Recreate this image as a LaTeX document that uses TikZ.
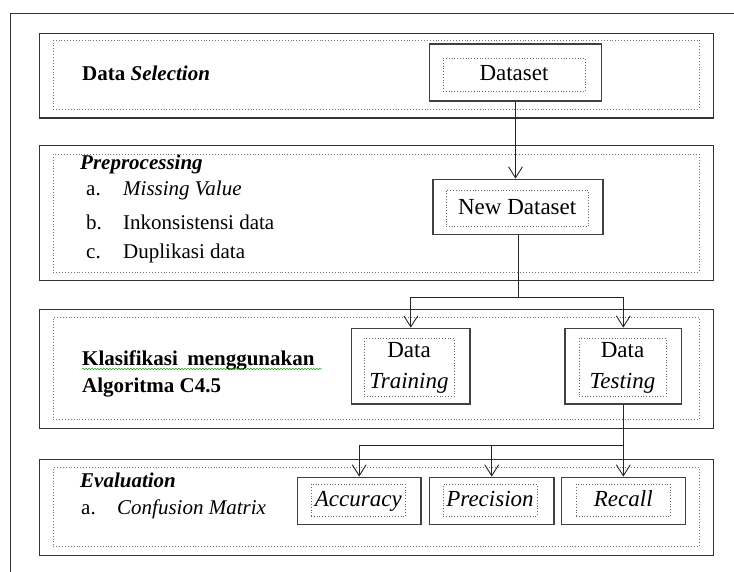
\documentclass[tikz,border=0pt]{standalone}
\usepackage{fontspec}
\setmainfont{Liberation Serif}
\usetikzlibrary{arrows.meta,decorations.pathmorphing}
\begin{document}
\begin{tikzpicture}[x=1pt,y=-1pt,
  secbox/.style={draw=black!80,line width=1.1pt,minimum width=674pt,inner sep=0pt},
  secdot/.style={draw=black!55,dotted,line width=0.9pt,minimum width=645.7pt,inner sep=0pt},
  itembox/.style={draw=black!75,line width=1.4pt,inner sep=0pt},
  innerdot/.style={draw=black!60,dotted,line width=0.8pt,inner sep=0pt,font=\fontsize{23}{31}\selectfont,align=center},
  oneline/.style={text height=16pt,text depth=4pt},
  conn/.style={draw=black!85,line width=0.9pt},
  arr/.style={conn,-{Straight Barb[length=11pt,width=14pt,line width=0.9pt]}},
  lbl/.style={anchor=base west,inner sep=0pt,font=\fontsize{21}{25}\selectfont}
]
\useasboundingbox (0,0) rectangle (734,572);
% outer page frame
\draw[black!80,line width=1pt] (734,14) -- (10,14) -- (10,572);

% section frames
\node[secbox,minimum height=84.7pt] (s1) at (376.3,75.7) {};
\node[secdot,minimum height=69pt] (s1d) at (376.2,74.5) {};
\node[secbox,minimum height=135.2pt] (s2) at (376.3,213.1) {};
\node[secdot,minimum height=118pt] (s2d) at (376.2,213) {};
\node[secbox,minimum height=118.8pt] (s3) at (376.3,368.9) {};
\node[secdot,minimum height=102.2pt] (s3d) at (376.2,368.4) {};
\node[secbox,minimum height=96.4pt] (s4) at (376.3,507.5) {};
\node[secdot,minimum height=79pt] (s4d) at (376.2,507.2) {};

% section labels
\node[lbl] (t1) at (82,81) {\textbf{Data \textit{Selection}}};
\node[lbl] (t2) at (80,170) {\textbf{\textit{Preprocessing}}};
\node[lbl] (t2a) at (86,196) {a.};
\node[lbl] (t2at) at (123,196) {\textit{Missing Value}};
\node[lbl] (t2b) at (86,230) {b.};
\node[lbl] (t2bt) at (123,230) {Inkonsistensi data};
\node[lbl] (t2c) at (86,259) {c.};
\node[lbl] (t2ct) at (123,259) {Duplikasi data};
\node[lbl] (t3) at (82,365) {\textbf{Klasifikasi\hspace{0.45em}menggunakan}};
\node[lbl] (t3b) at (82,392) {\textbf{Algoritma C4.5}};
\draw[green!60!black,line width=0.5pt,decorate,decoration={snake,amplitude=0.6pt,segment length=3pt}] (82,369) -- (322,369);
\node[lbl] (t4) at (80,487) {\textbf{\textit{Evaluation}}};
\node[lbl] (t4a) at (81,514) {a.};
\node[lbl] (t4at) at (117,514) {\textit{Confusion Matrix}};

% process boxes
\node[itembox,minimum width=172.4pt,minimum height=57pt] (ds) at (515.5,72.5) {};
\node[innerdot,oneline,minimum width=142pt,minimum height=33.4pt] (dsi) at (514,75) {Dataset};
\node[itembox,minimum width=170pt,minimum height=55pt] (nds) at (518,206.8) {};
\node[innerdot,oneline,minimum width=142.3pt,minimum height=36.7pt] (ndsi) at (517.2,208.3) {New Dataset};
\node[itembox,minimum width=118.3pt,minimum height=75.7pt] (dtr) at (410.8,366.2) {};
\node[innerdot,minimum width=90pt,minimum height=58.3pt] (dtri) at (409,367.5) {Data\\\textit{Training}};
\node[itembox,minimum width=116.7pt,minimum height=75.7pt] (dte) at (623.3,366.2) {};
\node[innerdot,minimum width=87pt,minimum height=58.3pt] (dtei) at (622.5,367.5) {Data\\\textit{Testing}};
\node[itembox,minimum width=123.7pt,minimum height=47.2pt] (acc) at (359.2,500.9) {};
\node[innerdot,oneline,minimum width=94.7pt,minimum height=31.7pt] (acci) at (358.3,500.2) {\textit{Accuracy}};
\node[itembox,minimum width=124.7pt,minimum height=47.2pt] (pre) at (491.7,500.9) {};
\node[innerdot,oneline,minimum width=94pt,minimum height=31.7pt] (prei) at (490,500.2) {\textit{Precision}};
\node[itembox,minimum width=124pt,minimum height=47.2pt] (rec) at (623.7,500.9) {};
\node[innerdot,oneline,minimum width=94.7pt,minimum height=31.7pt] (reci) at (623.3,500.2) {\textit{Recall}};

% connectors
\draw[arr] (ds.south) -- (ds.south |- nds.north);
\coordinate (j1) at (518,297);
\draw[conn] (nds.south) -- (j1);
\draw[arr] (j1) -| (dtr.north);
\draw[arr] (j1) -| (dte.north);
\coordinate (j2) at (623.5,445);
\draw[arr] (dte.south) -- (dte.south |- rec.north);
\draw[arr] (j2) -| (acc.north);
\draw[arr] (j2) -| (pre.north);
\end{tikzpicture}
\end{document}
